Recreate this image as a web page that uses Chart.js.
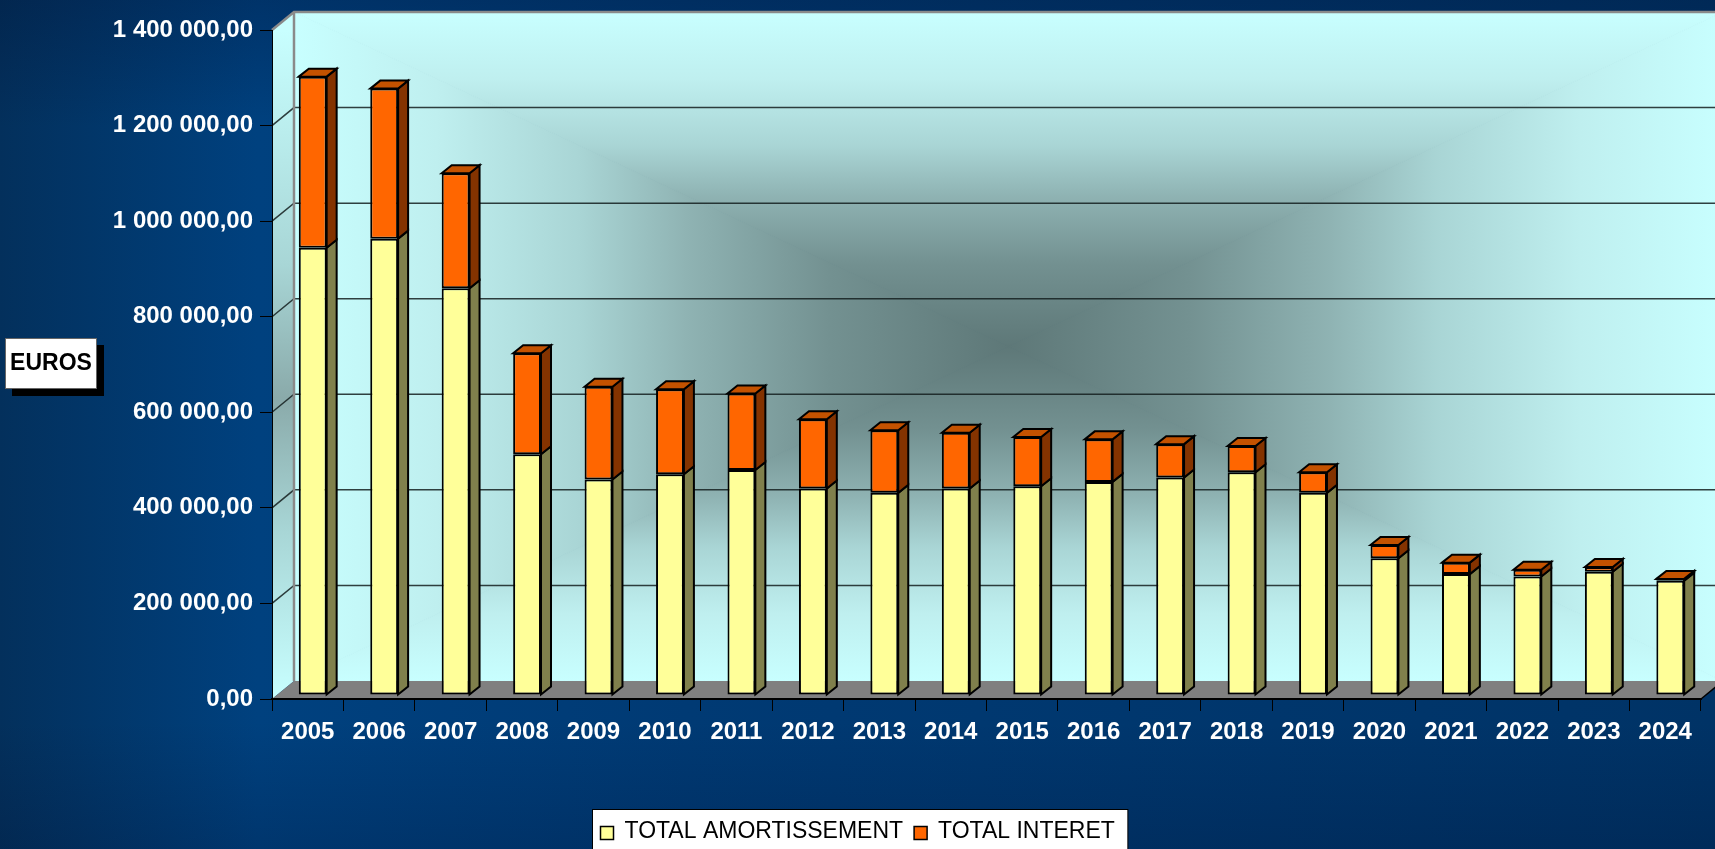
<!DOCTYPE html>
<html lang="fr">
<head>
<meta charset="utf-8">
<title>Total amortissement et intérêts</title>
<script src="https://cdn.jsdelivr.net/npm/chart.js@4.4.1/dist/chart.umd.min.js"></script>
<style>
  html, body { margin: 0; padding: 0; background: #003366; }
  #wrap { width: 1715px; height: 849px; }
</style>
</head>
<body>
<div id="wrap"><canvas id="chartLoan" width="1715" height="849"></canvas></div>
<script>
const years = ["2005", "2006", "2007", "2008", "2009", "2010", "2011", "2012", "2013", "2014",
  "2015", "2016", "2017", "2018", "2019", "2020", "2021", "2022", "2023", "2024"];

// euros
const amortissement = [936000, 955000, 851000, 504000, 451000, 462000, 471000, 432000, 423000, 432000,
  437000, 446000, 455000, 466000, 423000, 286000, 253000, 248000, 258000, 239000];
const interets = [358000, 314000, 241000, 211000, 194000, 178000, 160000, 145000, 131000, 117000,
  103000, 89000, 70000, 55000, 43000, 28000, 24000, 14000, 10000, 4000];

const yMax = 1400000;
const yStep = 200000;
const axisTitle = "EUROS";

const FONT = '"Liberation Sans", Arial, sans-serif';

// fake 3D: back wall offset, bar offset inside the box, bar depth
const WALL_DX = 22, WALL_DY = 18;
const BAR_DX = 5, BAR_DY = 4;
const SIDE_DX = 10, SIDE_DY = 8;

const sideColors = ["#80804c", "#843300"];
const topColor = "#c45200";

function formatEuros(v) {
  const s = Math.round(v).toString().replace(/\B(?=(\d{3})+(?!\d))/g, " ");
  return s + ",00";
}

function wallStops(g) {
  g.addColorStop(0, "#5e7878");
  g.addColorStop(0.25, "#739191");
  g.addColorStop(0.45, "#8fb3b3");
  g.addColorStop(0.6, "#a9d5d5");
  g.addColorStop(0.8, "#bfefef");
  g.addColorStop(1, "#c8ffff");
  return g;
}

// "from center" rectangular gradient, like the office chart wall fill
function fillRectGradient(ctx, x0, y0, x1, y1) {
  const cx = (x0 + x1) / 2;
  const cy = (y0 + y1) / 2;
  const parts = [
    [x0, y0, x1, y0, cx, y0],
    [x1, y0, x1, y1, x1, cy],
    [x1, y1, x0, y1, cx, y1],
    [x0, y1, x0, y0, x0, cy]
  ];
  parts.forEach(([ax, ay, bx, by, ex, ey]) => {
    const g = wallStops(ctx.createLinearGradient(cx, cy, ex, ey));
    ctx.beginPath();
    ctx.moveTo(cx, cy);
    ctx.lineTo(ax, ay);
    ctx.lineTo(bx, by);
    ctx.closePath();
    ctx.fillStyle = g;
    ctx.fill();
    ctx.strokeStyle = g;
    ctx.lineWidth = 1;
    ctx.stroke();
  });
}

const boxPlugin = {
  id: "box3d",
  beforeDraw(chart) {
    const { ctx, chartArea: a, width, height } = chart;
    ctx.save();

    let bg = ctx.createLinearGradient(0, 0, width, 0);
    bg.addColorStop(0, "#03305c");
    bg.addColorStop(0.15, "#00417f");
    bg.addColorStop(0.4, "#003a74");
    bg.addColorStop(1, "#003366");
    ctx.fillStyle = bg;
    ctx.fillRect(0, 0, width, height);
    let shade = ctx.createLinearGradient(0, 0, 0, height);
    shade.addColorStop(0, "rgba(0,10,40,0.25)");
    shade.addColorStop(0.15, "rgba(0,10,40,0)");
    shade.addColorStop(0.85, "rgba(0,10,40,0)");
    shade.addColorStop(1, "rgba(0,10,40,0.2)");
    ctx.fillStyle = shade;
    ctx.fillRect(0, 0, width, height);

    const bx0 = a.left + WALL_DX, by0 = a.top - WALL_DY;
    const bx1 = a.right + WALL_DX, by1 = a.bottom - WALL_DY;

    // back wall
    fillRectGradient(ctx, bx0, by0, bx1, by1);

    // left wall
    let lw = ctx.createLinearGradient(0, a.top, 0, a.bottom);
    lw.addColorStop(0, "#c8ffff");
    lw.addColorStop(0.35, "#a8d6d6");
    lw.addColorStop(0.55, "#8aaaaa");
    lw.addColorStop(0.75, "#a8d6d6");
    lw.addColorStop(1, "#c8ffff");
    ctx.beginPath();
    ctx.moveTo(a.left, a.top);
    ctx.lineTo(bx0, by0);
    ctx.lineTo(bx0, by1);
    ctx.lineTo(a.left, a.bottom);
    ctx.closePath();
    ctx.fillStyle = lw;
    ctx.fill();

    // floor
    ctx.beginPath();
    ctx.moveTo(a.left, a.bottom);
    ctx.lineTo(bx0, by1);
    ctx.lineTo(bx1, by1);
    ctx.lineTo(a.right, a.bottom);
    ctx.closePath();
    ctx.fillStyle = "#808080";
    ctx.fill();

    // grid lines on the back wall, joined to the ticks by the left wall
    const ys = chart.scales.y;
    ctx.strokeStyle = "rgba(20,30,30,0.85)";
    ctx.lineWidth = 1.5;
    ys.ticks.forEach((t) => {
      if (t.value === 0 || t.value === yMax) return;
      const py = ys.getPixelForValue(t.value);
      ctx.beginPath();
      ctx.moveTo(a.left, py);
      ctx.lineTo(bx0, py - WALL_DY);
      ctx.lineTo(bx1, py - WALL_DY);
      ctx.stroke();
    });

    // wall edges
    ctx.strokeStyle = "#8a8a8a";
    ctx.lineWidth = 2.5;
    ctx.beginPath();
    ctx.moveTo(a.left, a.top);
    ctx.lineTo(bx0, by0);
    ctx.lineTo(bx1, by0);
    ctx.moveTo(bx0, by0);
    ctx.lineTo(bx0, by1);
    ctx.stroke();

    ctx.strokeStyle = "#000";
    ctx.lineWidth = 1.5;
    ctx.beginPath();
    ctx.moveTo(a.right, a.bottom);
    ctx.lineTo(bx1, by1);
    ctx.stroke();

    ctx.restore();
  },
  beforeDatasetsDraw(chart) {
    chart.ctx.save();
    chart.ctx.translate(BAR_DX, -BAR_DY);
  },
  afterDatasetsDraw(chart) {
    const ctx = chart.ctx;
    ctx.lineWidth = 2;
    ctx.strokeStyle = "#000";
    ctx.lineJoin = "miter";
    const last = chart.data.datasets.length - 1;
    chart.data.datasets.forEach((ds, i) => {
      chart.getDatasetMeta(i).data.forEach((el) => {
        const { x, y, base, width } = el.getProps(["x", "y", "base", "width"], true);
        const l = x - width / 2, r = x + width / 2;
        if (Math.abs(base - y) < 0.5) return;
        ctx.beginPath();
        ctx.moveTo(r, y);
        ctx.lineTo(r + SIDE_DX, y - SIDE_DY);
        ctx.lineTo(r + SIDE_DX, base - SIDE_DY);
        ctx.lineTo(r, base);
        ctx.closePath();
        ctx.fillStyle = sideColors[i];
        ctx.fill();
        ctx.stroke();
        if (i === last) {
          ctx.beginPath();
          ctx.moveTo(l, y);
          ctx.lineTo(l + SIDE_DX, y - SIDE_DY);
          ctx.lineTo(r + SIDE_DX, y - SIDE_DY);
          ctx.lineTo(r, y);
          ctx.closePath();
          ctx.fillStyle = topColor;
          ctx.fill();
          ctx.stroke();
        }
      });
    });
    ctx.restore();
  },
  afterDraw(chart) {
    const { ctx, width, height } = chart;
    ctx.save();

    // axis title box
    ctx.fillStyle = "#000";
    ctx.fillRect(12, 345, 92, 51);
    ctx.fillStyle = "#fff";
    ctx.fillRect(5, 338, 92, 51);
    ctx.strokeStyle = "#666";
    ctx.lineWidth = 1;
    ctx.strokeRect(5.5, 338.5, 91, 50);
    ctx.fillStyle = "#000";
    ctx.font = "bold 23px " + FONT;
    ctx.textAlign = "center";
    ctx.textBaseline = "middle";
    ctx.fillText(axisTitle, 51, 364);

    // legend
    ctx.font = "23px " + FONT;
    ctx.textAlign = "left";
    const box = 13, gap = 11, spacing = 11;
    const items = chart.data.datasets.map((ds) => ({
      text: ds.label,
      color: ds.backgroundColor,
      w: box + gap + ctx.measureText(ds.label).width
    }));
    const total = items.reduce((s, it) => s + it.w, 0) + spacing * (items.length - 1);
    const lx = Math.round(width / 2 - total / 2 - 8) + 0.5;
    const ly = height - 40 + 0.5;
    ctx.fillStyle = "#fff";
    ctx.fillRect(lx, ly, total + 21, 50);
    ctx.strokeStyle = "#000";
    ctx.strokeRect(lx, ly, total + 21, 50);
    let cx = lx + 8;
    items.forEach((it) => {
      ctx.fillStyle = it.color;
      ctx.fillRect(cx, ly + 17, box, box);
      ctx.strokeStyle = "#000";
      ctx.lineWidth = 1.5;
      ctx.strokeRect(cx, ly + 17, box, box);
      ctx.fillStyle = "#000";
      ctx.fillText(it.text, cx + box + gap, ly + 22);
      cx += it.w + spacing;
    });

    ctx.restore();
  }
};

new Chart(document.getElementById("chartLoan"), {
  type: "bar",
  data: {
    labels: years,
    datasets: [
      {
        label: "TOTAL AMORTISSEMENT",
        data: amortissement,
        backgroundColor: "#ffff99",
        borderColor: "#000",
        borderWidth: 2,
        borderSkipped: false,
        barPercentage: 0.39,
        categoryPercentage: 1
      },
      {
        label: "TOTAL INTERET",
        data: interets,
        backgroundColor: "#ff6600",
        borderColor: "#000",
        borderWidth: 2,
        borderSkipped: false,
        barPercentage: 0.39,
        categoryPercentage: 1
      }
    ]
  },
  options: {
    responsive: false,
    animation: false,
    devicePixelRatio: 1,
    layout: { padding: { top: 30, right: 14, bottom: 100, left: 0 } },
    plugins: {
      legend: { display: false },
      tooltip: { enabled: false }
    },
    scales: {
      x: {
        stacked: true,
        grid: { drawOnChartArea: false, drawTicks: true, tickLength: 12, color: "#000", offset: true },
        border: { display: true, color: "#000", width: 2 },
        ticks: {
          color: "#fff",
          font: { family: FONT, size: 24, weight: "bold" },
          padding: 7,
          maxRotation: 0,
          autoSkip: false
        },
        afterFit: (s) => { s.height = 50; }
      },
      y: {
        stacked: true,
        min: 0,
        max: yMax,
        grid: { drawOnChartArea: false, drawTicks: true, tickLength: 12, color: "#000" },
        border: { display: true, color: "#000", width: 1 },
        ticks: {
          stepSize: yStep,
          color: "#fff",
          font: { family: FONT, size: 24, weight: "bold" },
          padding: 7,
          callback: (v) => formatEuros(v)
        },
        afterFit: (s) => { s.width = 272; }
      }
    }
  },
  plugins: [boxPlugin]
});
</script>
</body>
</html>
